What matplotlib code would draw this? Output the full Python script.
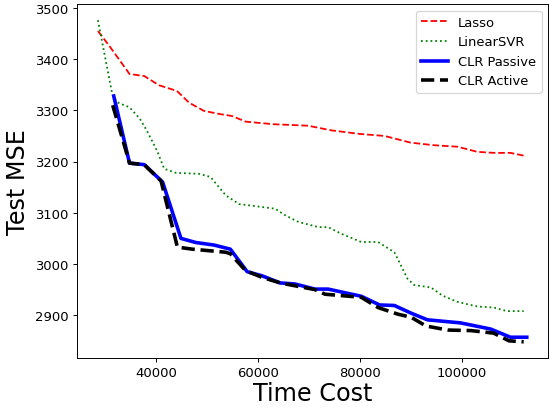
import matplotlib
matplotlib.use("Agg")
import matplotlib.pyplot as plt

# Lasso baseline
lasso_x = [28600, 30900, 34800, 37700, 40600, 44100, 46500, 49400, 52400, 54900,
           57600, 63000, 69900, 74400, 80000, 84900, 90000, 94500, 99200, 103100,
           106400, 109600, 112500]
lasso_y = [3455, 3425, 3371, 3367, 3349, 3338, 3315, 3299, 3293, 3289,
           3278, 3273, 3270, 3261, 3254, 3250, 3237, 3232, 3229, 3219,
           3217, 3217, 3211]

# LinearSVR baseline
svr_x = [28600, 31400, 32300, 34800, 36800, 38000, 39300, 40300, 41600, 43900,
         48500, 50700, 53700, 56300, 63400, 65400, 68000, 71900, 73800, 76400,
         80300, 83600, 86800, 89400, 90700, 92700, 94000, 96300, 99200, 103100,
         106300, 108900, 112200]
svr_y = [3476, 3332, 3316, 3306, 3284, 3264, 3239, 3219, 3186, 3178,
         3176, 3170, 3134, 3117, 3108, 3095, 3082, 3072, 3072, 3059,
         3043, 3043, 3023, 2971, 2959, 2956, 2954, 2938, 2926, 2917,
         2915, 2908, 2908]

# CLR, passive sampling
passive_x = [31700, 34800, 37700, 41300, 44900, 47800, 51400, 54600, 57900, 60800,
             64400, 67300, 71200, 73800, 80300, 83900, 86800, 90100, 93300, 99800,
             105700, 109600, 112800]
passive_y = [3328, 3197, 3194, 3160, 3050, 3042, 3037, 3029, 2985, 2977,
             2963, 2961, 2951, 2951, 2937, 2920, 2919, 2904, 2891, 2885,
             2873, 2857, 2857]

# CLR, active sampling
active_x = [31500, 34800, 37700, 41000, 44200, 47100, 53700, 54600, 57600, 60800,
            64400, 71200, 73200, 80300, 83600, 87500, 90100, 93000, 97300, 101800,
            106300, 109300, 112200]
active_y = [3310, 3197, 3194, 3162, 3033, 3029, 3023, 3020, 2987, 2974,
            2963, 2950, 2941, 2935, 2915, 2902, 2896, 2879, 2871, 2870,
            2865, 2850, 2848]

fig = plt.figure(figsize=(6.4, 4.8), dpi=86)
ax = fig.add_axes([0.139, 0.131, 0.857, 0.857])

ax.plot(lasso_x, lasso_y, "r--", lw=1.5, label="Lasso")
ax.plot(svr_x, svr_y, "g:", lw=1.5, label="LinearSVR")
ax.plot(passive_x, passive_y, "b-", lw=3, label="CLR Passive")
ax.plot(active_x, active_y, "k--", lw=3, label="CLR Active")

ax.tick_params(labelsize=11)
ax.set_xlabel("Time Cost", fontsize=20, labelpad=2)
ax.set_ylabel("Test MSE", fontsize=20)
ax.legend(loc="upper right", fontsize=11)

fig.savefig("out.png", dpi=86)
